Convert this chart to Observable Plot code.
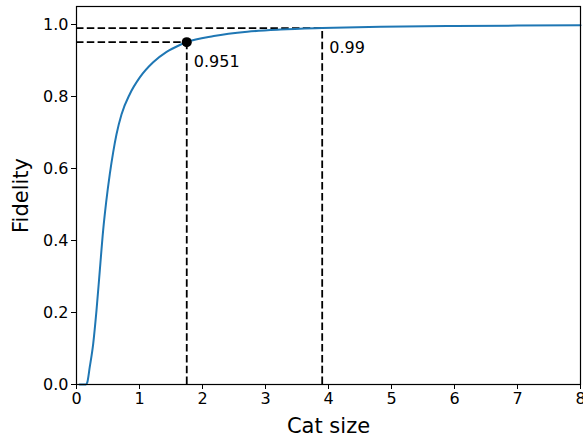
<!DOCTYPE html>
<html>
<head>
<meta charset="utf-8">
<script src="https://cdn.jsdelivr.net/npm/d3@7"></script>
<script src="https://cdn.jsdelivr.net/npm/@observablehq/plot@0.6"></script>
<style>
  html, body { margin: 0; padding: 0; background: #fff; }
  #chart svg { display: block; }
</style>
</head>
<body>
<div id="chart"></div>
<script>
// Fidelity as a function of cat size
const catSize = [0.05, 0.15, 0.17, 0.21, 0.265, 0.317, 0.37, 0.423, 0.47, 0.529, 0.582, 0.635,
                 0.714, 0.847, 1.005, 1.217, 1.43, 1.64, 1.75, 2.18, 2.71, 3.24, 3.9, 4.83, 6.0, 7.0, 8.0];
const fidelity = [0, 0, 0.005, 0.048, 0.113, 0.205, 0.317, 0.428, 0.505, 0.585, 0.645, 0.695,
                  0.75, 0.807, 0.853, 0.895, 0.924, 0.943, 0.951, 0.968, 0.980, 0.986, 0.99,
                  0.9935, 0.9958, 0.997, 0.9977];

// Threshold markers: cat size reaching a given fidelity
const markSize = [1.75, 3.9];
const markFid = [0.951, 0.99];
const markLabel = ["0.951", "0.99"];

const xTicks = [0, 1, 2, 3, 4, 5, 6, 7, 8];
const yTicks = [0, 0.2, 0.4, 0.6, 0.8, 1.0];

const curve = catSize.map((x, i) => ({x, y: fidelity[i]}));
const marks = markSize.map((x, i) => ({x, y: markFid[i], label: markLabel[i]}));

const dash = "7.5,3.3";
const font = "DejaVu Sans, sans-serif";

const chart = Plot.plot({
  width: 583,
  height: 438,
  marginLeft: 76,
  marginRight: 3,
  marginTop: 6,
  marginBottom: 54,
  style: {fontFamily: font, background: "#fff", color: "#000"},
  x: {domain: [0, 8]},
  y: {domain: [0, 1.05]},
  marks: [
    // horizontal guides from the axis to the point
    Plot.ruleY(marks, {y: "y", x1: 0, x2: "x", stroke: "#000", strokeWidth: 1.8, strokeDasharray: dash}),
    // vertical guides from the axis up to the point
    Plot.ruleX(marks, {x: "x", y1: 0, y2: "y", stroke: "#000", strokeWidth: 1.8, strokeDasharray: dash}),
    Plot.line(curve, {x: "x", y: "y", stroke: "#1f77b4", strokeWidth: 2, curve: "monotone-x"}),
    Plot.dot(marks.slice(0, 1), {x: "x", y: "y", r: 5, fill: "#000", stroke: "none"}),
    Plot.text(marks, {x: "x", y: "y", text: "label", dx: 7, dy: 20, textAnchor: "start", fontSize: 16, fill: "#000"}),
    Plot.frame({stroke: "#000", strokeWidth: 1.2}),
    Plot.axisX({ticks: xTicks, tickFormat: d => String(d), tickSize: 5, tickPadding: 3, fontSize: 16,
                label: "Cat size", labelAnchor: "center", labelArrow: "none", labelOffset: 48}),
    Plot.axisY({ticks: yTicks, tickFormat: d => d.toFixed(1), tickSize: 5, tickPadding: 3, fontSize: 16,
                label: "Fidelity", labelAnchor: "center", labelArrow: "none", labelOffset: 63})
  ]
});

d3.select(chart).selectAll("[aria-label='x-axis label'] text, [aria-label='y-axis label'] text")
  .style("font-size", "21px");
document.getElementById("chart").appendChild(chart);
</script>
</body>
</html>
